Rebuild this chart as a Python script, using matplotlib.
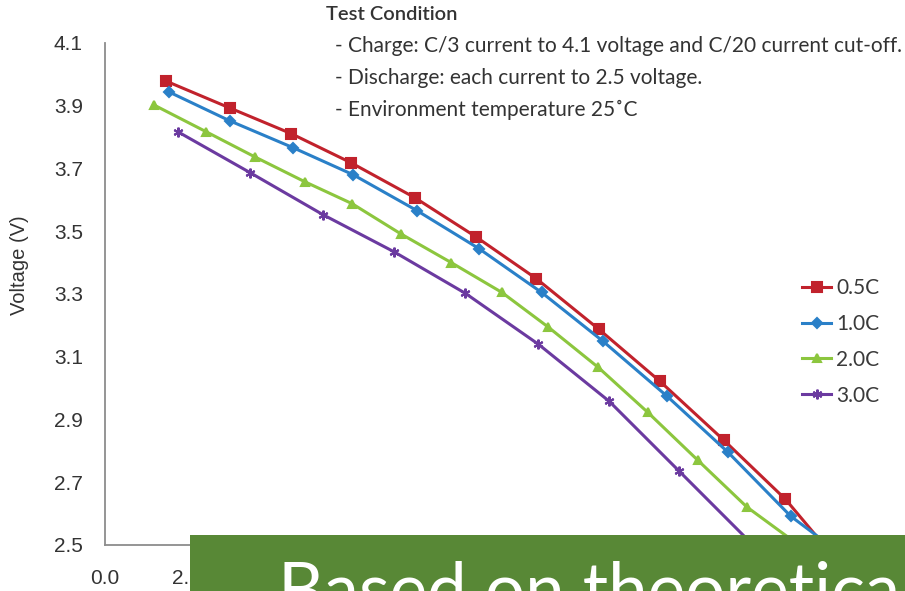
import matplotlib.pyplot as plt
from matplotlib.patches import Rectangle

# discharge curves (last point = where the curve hits 2.5 V, no marker)
x_05c = [1.50, 3.08, 4.60, 6.08, 7.65, 9.15, 10.65, 12.20, 13.70, 15.28, 16.80, 17.75]
v_05c = [3.979, 3.893, 3.811, 3.718, 3.607, 3.483, 3.349, 3.187, 3.022, 2.834, 2.646, 2.50]

x_10c = [1.58, 3.08, 4.65, 6.13, 7.70, 9.23, 10.78, 12.30, 13.88, 15.38, 16.93, 17.88]
v_10c = [3.944, 3.852, 3.766, 3.680, 3.566, 3.445, 3.305, 3.149, 2.974, 2.796, 2.592, 2.50]

x_20c = [1.20, 2.50, 3.70, 4.93, 6.10, 7.30, 8.55, 9.80, 10.95, 12.18, 13.40, 14.63, 15.85, 17.13]
v_20c = [3.903, 3.817, 3.737, 3.658, 3.588, 3.492, 3.400, 3.305, 3.194, 3.066, 2.923, 2.771, 2.621, 2.50]

x_30c = [1.80, 3.58, 5.38, 7.13, 8.90, 10.70, 12.45, 14.18, 16.00]
v_30c = [3.817, 3.687, 3.553, 3.435, 3.302, 3.140, 2.958, 2.735, 2.50]

labels = ["0.5C", "1.0C", "2.0C", "3.0C"]
y_ticks = [2.5, 2.7, 2.9, 3.1, 3.3, 3.5, 3.7, 3.9, 4.1]
x_ticks = [0, 2]  # the rest sit under the banner

test_lines = [
    "- Charge: C/3 current to 4.1 voltage and C/20 current cut-off.",
    "- Discharge: each current to 2.5 voltage.",
    "- Environment temperature 25\u02daC",
]

W, H = 905, 591
fig = plt.figure(figsize=(W / 100, H / 100), dpi=100)
ax = fig.add_axes([105 / W, 46 / H, (834 - 105) / W, (548 - 46) / H])

series = [
    (x_05c, v_05c, "#c1222c", "s", 7),
    (x_10c, v_10c, "#2a80c8", "D", 5),
    (x_20c, v_20c, "#8cc63e", "^", 6),
    (x_30c, v_30c, "#6b3aa0", (6, 2, 0), 7),
]
for (xs, vs, col, mk, ms), lab in zip(series, labels):
    ax.plot(xs, vs, color=col, lw=2.2, marker=mk, ms=ms, mew=1.5,
            markevery=list(range(len(xs) - 1)), label=lab)

ax.set_xlim(0, 18)
ax.set_ylim(2.5, 4.1)
ax.set_yticks(y_ticks)
ax.set_yticklabels([f"{v:.1f}" for v in y_ticks])
ax.set_xticks(x_ticks)
ax.set_xticklabels([f"{v:.1f}" for v in x_ticks])
ax.tick_params(length=0, labelsize=15, colors="#333333")
ax.tick_params(axis="y", pad=16)
ax.tick_params(axis="x", pad=17)
for lbl in ax.get_xticklabels() + ax.get_yticklabels():
    lbl.set_family("Liberation Sans")
for s in ["top", "right"]:
    ax.spines[s].set_visible(False)
for s in ["left", "bottom"]:
    ax.spines[s].set_color("#8c8c8c")
    ax.spines[s].set_linewidth(1.3)

fig.text(20 / W, 1 - 265 / H, "Voltage (V)", rotation=90, ha="center", va="center",
         fontsize=14.5, color="#333333", family="Liberation Sans")

leg = ax.legend(loc="upper left", bbox_to_anchor=(802 / W, 1 - 278 / H),
                bbox_transform=fig.transFigure, frameon=False, borderpad=0,
                borderaxespad=0, handlelength=1.4, handletextpad=0.25,
                labelspacing=0.76, prop={"family": "Lato", "size": 15})
for t in leg.get_texts():
    t.set_color("#3a3a3a")

# test condition notes
fig.text(326 / W, 1 - 14 / H, "Test Condition", fontsize=14.5, family="Lato",
         weight="semibold", color="#333333", va="center")
for i, line in enumerate(test_lines):
    fig.text(335 / W, 1 - (46 + 32 * i) / H, line, fontsize=15, family="Lato",
             color="#333333", va="center")

# green banner overlapping the bottom of the chart
fig.add_artist(Rectangle((190 / W, 0), 1 - 190 / W, 56 / H, transform=fig.transFigure,
                         facecolor="#588836", edgecolor="none", zorder=5))
fig.text(278 / W, -22 / H, "Based on theoretical", fontsize=51, family="Lato",
         weight="normal", color="white", va="baseline", zorder=6)

fig.savefig("out.png", dpi=100)
